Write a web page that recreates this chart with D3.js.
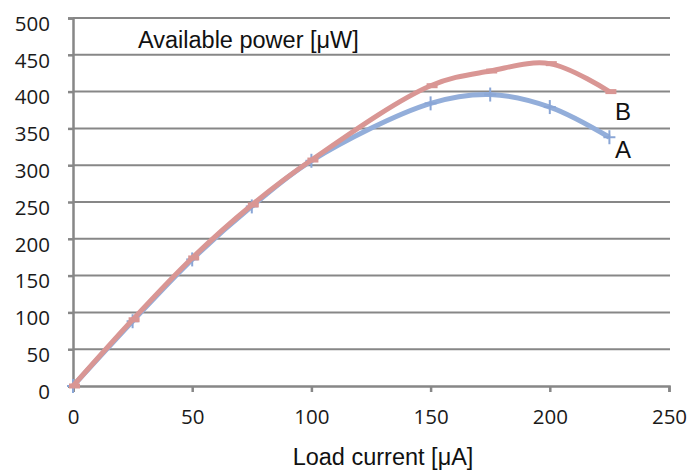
<!DOCTYPE html>
<html>
<head>
<meta charset="utf-8">
<script src="https://cdn.jsdelivr.net/npm/d3@7"></script>
<style>
  body { margin: 0; background: #fff; }
</style>
</head>
<body>
<div id="chart-area"></div>
<script>
// data
var currents = [0, 25, 50, 75, 100, 150, 175, 200, 225];
var powerA = [0, 88, 172, 244, 306, 384, 396, 379, 338];
var powerB = [0, 90, 174, 246, 307, 408, 428, 438, 400];
var xTicks = [0, 50, 100, 150, 200, 250];
var yTicks = [0, 50, 100, 150, 200, 250, 300, 350, 400, 450, 500];

var width = 689;
var height = 471;

var svg = d3.select("#chart-area").append("svg")
    .attr("width", width)
    .attr("height", height);

var x = d3.scaleLinear().domain([0, 250]).range([73, 669]);
var y = d3.scaleLinear().domain([0, 500]).range([386, 18]);

var gridCol = "#878787";

// horizontal grid
svg.append("g").selectAll("line")
    .data(yTicks.filter(d => d > 0))
    .enter().append("line")
        .attr("x1", x(0))
        .attr("x2", x(250) + 1)
        .attr("y1", d => y(d))
        .attr("y2", d => y(d))
        .attr("stroke", gridCol)
        .attr("stroke-width", 2);

// axes
var leftAxis = d3.axisLeft(y).tickValues(yTicks).tickSize(5).tickPadding(18);
var gy = svg.append("g")
    .attr("transform", "translate(" + x(0) + ",0)")
    .call(leftAxis);

var bottomAxis = d3.axisBottom(x).tickValues(xTicks).tickSize(6).tickPadding(22);
var gx = svg.append("g")
    .attr("transform", "translate(0," + y(0) + ")")
    .call(bottomAxis);

[gx, gy].forEach(g => {
    g.select(".domain").attr("stroke", gridCol).attr("stroke-width", 2.5);
    g.selectAll(".tick line").attr("stroke", gridCol).attr("stroke-width", 2.5);
    g.selectAll("text")
        .attr("font-family", "Open Sans, sans-serif")
        .attr("font-size", "20.5px")
        .attr("fill", "#1a1a1a");
});
gy.selectAll("text").attr("dy", "0.6em").attr("x", -23);
gx.selectAll("text").attr("dy", "0.5em");

// lines
var ptsA = currents.map((c, i) => [c, powerA[i]]);
var ptsB = currents.map((c, i) => [c, powerB[i]]);

var line = d3.line()
    .x(d => x(d[0]))
    .y(d => y(d[1]))
    .curve(d3.curveCatmullRom.alpha(0.5));

svg.append("path")
    .datum(ptsA)
    .attr("d", line)
    .attr("fill", "none")
    .attr("stroke", "#93AEDA")
    .attr("stroke-width", 5);

// + markers on A
var mk = svg.append("g").selectAll("g")
    .data(ptsA)
    .enter().append("g")
        .attr("transform", d => "translate(" + x(d[0]) + "," + y(d[1]) + ")");
mk.append("line").attr("x1", -6).attr("x2", 6).attr("y1", 0).attr("y2", 0)
    .attr("stroke", "#8AA6D6").attr("stroke-width", 2);
mk.append("line").attr("x1", 0).attr("x2", 0).attr("y1", -7).attr("y2", 7)
    .attr("stroke", "#8AA6D6").attr("stroke-width", 2);

svg.append("path")
    .datum(ptsB)
    .attr("d", line)
    .attr("fill", "none")
    .attr("stroke", "#D99694")
    .attr("stroke-width", 5);

// dash markers on B
svg.append("g").selectAll("line")
    .data(ptsB)
    .enter().append("line")
        .attr("x1", d => x(d[0]) - 4)
        .attr("x2", d => x(d[0]) + 7)
        .attr("y1", d => y(d[1]))
        .attr("y2", d => y(d[1]))
        .attr("stroke", "#D99694")
        .attr("stroke-width", 5);

// labels
var labelFont = "Liberation Sans, Arial, sans-serif";

svg.append("text")
    .attr("x", 138)
    .attr("y", 48)
    .attr("font-family", labelFont)
    .attr("font-size", "23.5px")
    .attr("fill", "#111")
    .text("Available power [μW]");

svg.append("text")
    .attr("x", 383)
    .attr("y", 465)
    .attr("text-anchor", "middle")
    .attr("font-family", labelFont)
    .attr("font-size", "23.5px")
    .attr("fill", "#111")
    .text("Load current [μA]");

svg.append("text")
    .attr("x", 615)
    .attr("y", 120)
    .attr("font-family", labelFont)
    .attr("font-size", "24px")
    .attr("fill", "#111")
    .text("B");

svg.append("text")
    .attr("x", 615)
    .attr("y", 158)
    .attr("font-family", labelFont)
    .attr("font-size", "24px")
    .attr("fill", "#111")
    .text("A");
</script>
</body>
</html>
